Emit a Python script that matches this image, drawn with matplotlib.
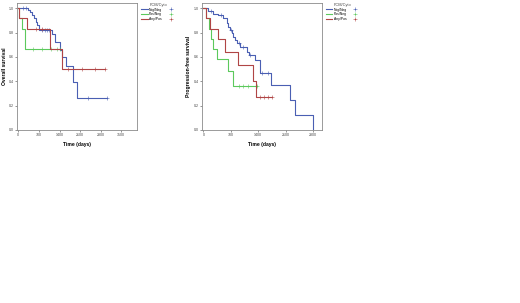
import numpy as np
import matplotlib
matplotlib.use("Agg")
import matplotlib.pyplot as plt
from matplotlib.lines import Line2D

plt.rcParams['font.family'] = ['Liberation Sans', 'DejaVu Sans']

groups = ["Neg/Neg", "Pos/Neg", "Any/Pos"]
colors = ["#4a5fb3", "#5cc95c", "#b04545"]

# Overall survival (days, survival fraction)
os_blue_t = [0, 330, 400, 470, 540, 600, 650, 700, 1140, 1250, 1420, 1470, 1620, 1850, 2000, 3030]
os_blue_s = [1.0, 0.986, 0.972, 0.944, 0.917, 0.889, 0.861, 0.82, 0.79, 0.72, 0.66, 0.60, 0.526, 0.395, 0.263, 0.263]
os_green_t = [0, 10, 120, 240, 1430]
os_green_s = [1.0, 0.917, 0.833, 0.667, 0.667]
os_red_t = [0, 10, 285, 1080, 1470, 2950]
os_red_s = [1.0, 0.917, 0.833, 0.667, 0.5, 0.5]

os_blue_cens = [150, 250, 820, 900, 980, 1040, 2380, 3030]
os_green_cens = [500, 800, 1100, 1300, 1430]
os_red_cens = [600, 800, 1700, 2150, 2600, 2950]

# Progression-free survival
pfs_blue_t = [0, 127, 255, 382, 509, 594, 640, 680, 720, 764, 810, 849, 934, 1104, 1160,
              1316, 1443, 1722, 2210, 2335, 2790]
pfs_blue_s = [1.0, 0.98, 0.957, 0.945, 0.918, 0.877, 0.85, 0.822, 0.795, 0.767, 0.74, 0.712,
              0.685, 0.643, 0.616, 0.575, 0.47, 0.37, 0.247, 0.123, 0.0]
pfs_green_t = [0, 60, 140, 200, 255, 340, 640, 764, 1360]
pfs_green_s = [1.0, 0.917, 0.833, 0.75, 0.667, 0.583, 0.486, 0.364, 0.364]
pfs_red_t = [0, 60, 170, 382, 552, 891, 1273, 1341, 1760]
pfs_red_s = [1.0, 0.917, 0.833, 0.75, 0.639, 0.537, 0.40, 0.268, 0.268]

pfs_blue_cens = [200, 450, 700, 900, 1000, 1200, 1500, 1650]
pfs_green_cens = [900, 1000, 1150, 1360]
pfs_red_cens = [1450, 1560, 1660, 1760]

os_ticks = [0, 700, 1400, 2100, 2800, 3500]
pfs_ticks = [0, 700, 1400, 2100, 2800]
y_ticks = [0.0, 0.2, 0.4, 0.6, 0.8, 1.0]


def surv_at(t, s, x):
    idx = np.searchsorted(t, x, side='right') - 1
    return np.asarray(s)[idx]


def km_panel(ax, curves, cens, xticks, xmax, ylabel):
    for (t, s), c_t, col in zip(curves, cens, colors):
        ax.step(t, s, where='post', color=col, lw=0.8)
        ax.plot(c_t, surv_at(t, s, c_t), ls='none', marker='+', ms=2.2,
                mew=0.4, color=col)
    ax.set_xlim(-35, xmax)
    ax.set_ylim(0, 1.046)
    ax.set_xticks(xticks)
    ax.set_yticks(y_ticks)
    ax.set_yticklabels([f"{v:.1f}" for v in y_ticks])
    ax.tick_params(labelsize=2.6, length=1.5, width=0.4, pad=1, colors="#444444")
    for sp in ax.spines.values():
        sp.set_color("#8a8a8a")
        sp.set_linewidth(0.6)
    ax.set_xlabel("Time (days)", fontsize=3.6, fontweight='bold', labelpad=3)
    ax.set_ylabel(ylabel, fontsize=3.6, fontweight='bold', labelpad=1.5)

    handles = [Line2D([], [], color=c, lw=0.8) for c in colors]
    handles += [Line2D([], [], color=c, ls='none', marker='+', ms=2.2, mew=0.4) for c in colors]
    leg = ax.legend(handles, groups + ["", "", ""], ncol=2, title="FCM/Cyto",
                    loc='upper left', bbox_to_anchor=(1.02, 1.01), frameon=False,
                    fontsize=2.4, title_fontsize=2.8, handlelength=2.0,
                    handletextpad=0.4, columnspacing=1.5, labelspacing=0.25,
                    borderaxespad=0)
    leg.get_title().set_color("#444444")


fig = plt.figure(figsize=(5.2, 3.03), dpi=100)
ax1 = fig.add_axes([0.0333, 0.571, 0.2308, 0.420])
ax2 = fig.add_axes([0.3885, 0.571, 0.2308, 0.420])

km_panel(ax1, [(os_blue_t, os_blue_s), (os_green_t, os_green_s), (os_red_t, os_red_s)],
         [os_blue_cens, os_green_cens, os_red_cens], os_ticks, 4046, "Overall survival")
km_panel(ax2, [(pfs_blue_t, pfs_blue_s), (pfs_green_t, pfs_green_s), (pfs_red_t, pfs_red_s)],
         [pfs_blue_cens, pfs_green_cens, pfs_red_cens], pfs_ticks, 3030,
         "Progression-free survival")

fig.savefig("out.png", dpi=100)
